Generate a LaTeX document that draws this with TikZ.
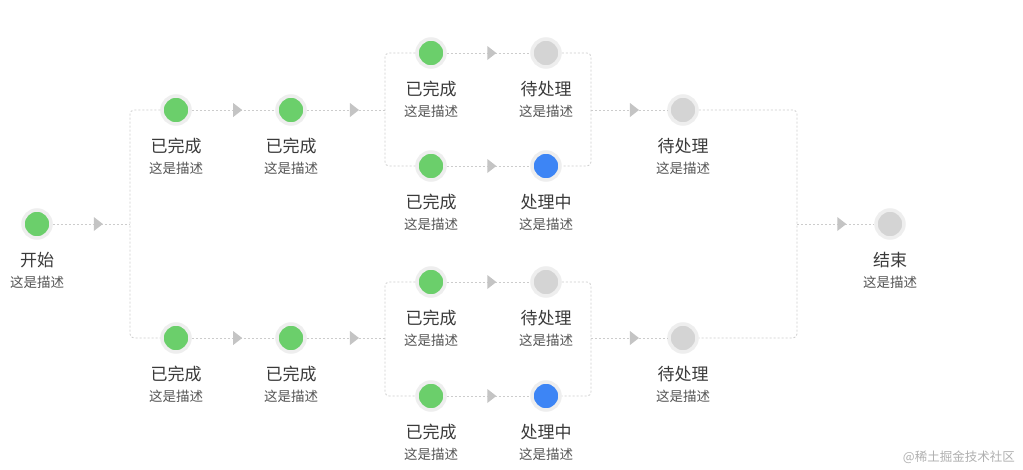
\documentclass[tikz,border=0pt]{standalone}
\usepackage{fontspec}
\setmainfont{Noto Sans CJK SC}
\usetikzlibrary{decorations.markings}
\definecolor{gdone}{HTML}{6BCF6B}
\definecolor{bdoing}{HTML}{3D85F5}
\definecolor{gwait}{HTML}{D4D4D4}
\definecolor{ringc}{HTML}{EEEEEE}
\definecolor{arrc}{HTML}{C4C4C4}
\definecolor{linec}{HTML}{CCCCCC}
\definecolor{ttlc}{HTML}{3A3A3A}
\definecolor{dscc}{HTML}{555555}
\definecolor{wmc}{HTML}{B0B0B0}
\newcommand\mystage[6]{%
  \node[dot, fill=#4] (#1) at (#2,#3) {};
  \node[ttl] (#1-t) at (#2,#3+36) {#5};
  \node[dsc] (#1-d) at (#2,#3+58) {#6};
}
\begin{document}
\begin{tikzpicture}[x=1pt,y=-1pt,
  dot/.style={circle, minimum size=28pt, inner sep=0pt, draw=ringc, line width=3.5pt},
  ttl/.style={text=ttlc, font=\fontsize{17}{19}\selectfont, inner sep=0pt},
  dsc/.style={text=dscc, font=\fontsize{13.5}{15}\selectfont, inner sep=0pt},
  conn/.style={draw=linec, line width=0.8pt, dash pattern=on 2pt off 2pt, rounded corners=4pt},
  arrmark/.style={postaction={decorate, decoration={markings,
      mark=at position #1 with {\fill[arrc, sharp corners] (-4.5,-7) -- (4.5,0) -- (-4.5,7) -- cycle;}}}},
  wm/.style={text=wmc, font=\fontsize{12.5}{14}\selectfont, inner sep=0pt}]
\useasboundingbox (0,0) rectangle (1023,469);
\fill[white] (0,0) rectangle (1023,469);
% stages
\mystage{s}{37}{224}{gdone}{开始}{这是描述}
\mystage{a1}{176}{110}{gdone}{已完成}{这是描述}
\mystage{a2}{291}{110}{gdone}{已完成}{这是描述}
\mystage{b1}{176}{338}{gdone}{已完成}{这是描述}
\mystage{b2}{291}{338}{gdone}{已完成}{这是描述}
\mystage{c1}{431}{53}{gdone}{已完成}{这是描述}
\mystage{c2}{546}{53}{gwait}{待处理}{这是描述}
\mystage{c3}{431}{166}{gdone}{已完成}{这是描述}
\mystage{c4}{546}{166}{bdoing}{处理中}{这是描述}
\mystage{d1}{431}{282}{gdone}{已完成}{这是描述}
\mystage{d2}{546}{282}{gwait}{待处理}{这是描述}
\mystage{d3}{431}{396}{gdone}{已完成}{这是描述}
\mystage{d4}{546}{396}{bdoing}{处理中}{这是描述}
\mystage{w1}{683}{110}{gwait}{待处理}{这是描述}
\mystage{w2}{683}{338}{gwait}{待处理}{这是描述}
\mystage{e}{890}{224}{gwait}{结束}{这是描述}
% junctions
\coordinate (jl) at (130,224);
\coordinate (k1) at (385,110);
\coordinate (m1) at (591,110);
\coordinate (k2) at (385,338);
\coordinate (m2) at (591,338);
\coordinate (n) at (797,224);
% connectors
\draw[conn, arrmark=0.59] (s) -- (jl);
\draw[conn] (a1) -| (jl) |- (b1);
\draw[conn, arrmark=0.55] (a1) -- (a2);
\draw[conn, arrmark=0.55] (b1) -- (b2);
\draw[conn, arrmark=0.61] (a2) -- (k1);
\draw[conn, arrmark=0.61] (b2) -- (k2);
\draw[conn] (c1) -| (k1) |- (c3);
\draw[conn] (d1) -| (k2) |- (d3);
\draw[conn, arrmark=0.54] (c1) -- (c2);
\draw[conn, arrmark=0.54] (c3) -- (c4);
\draw[conn, arrmark=0.54] (d1) -- (d2);
\draw[conn, arrmark=0.54] (d3) -- (d4);
\draw[conn] (c2) -| (m1) |- (c4);
\draw[conn] (d2) -| (m2) |- (d4);
\draw[conn, arrmark=0.57] (m1) -- (w1);
\draw[conn, arrmark=0.57] (m2) -- (w2);
\draw[conn] (w1) -| (n) |- (w2);
\draw[conn, arrmark=0.58] (n) -- (e);
% watermark
\node[wm, anchor=east] (wmark) at (1015,457) {@稀土掘金技术社区};
\end{tikzpicture}
\end{document}
